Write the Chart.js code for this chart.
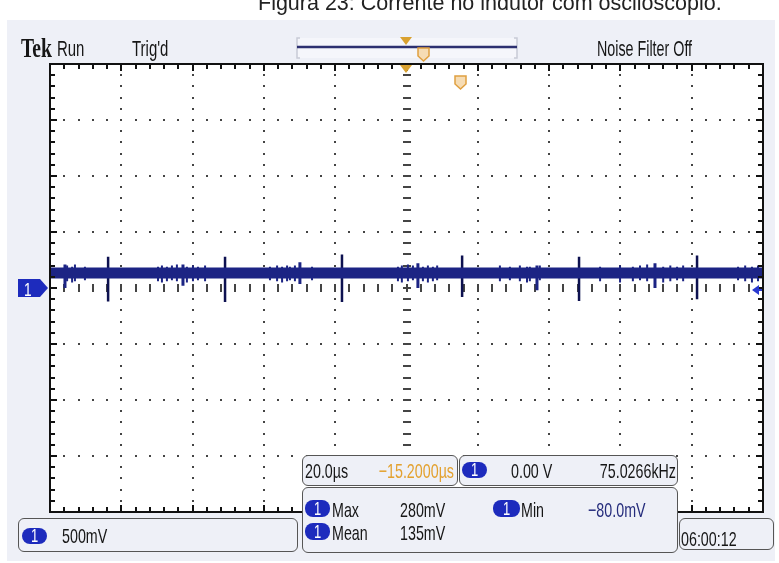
<!DOCTYPE html>
<html>
<head>
<meta charset="utf-8">
<script src="https://cdn.jsdelivr.net/npm/chart.js@4.4.1/dist/chart.umd.min.js"></script>
<style>
html, body { margin: 0; padding: 0; background: #fff; width: 779px; height: 563px; overflow: hidden; position: relative; font-family: "Liberation Sans", Arial, sans-serif; }
#panel { position: absolute; left: 7px; top: 20px; width: 768px; height: 541px; background: #eef0f7; }
#scope { position: absolute; left: 0; top: 0; }
#marks { position: absolute; left: 0; top: 0; }
.t { position: absolute; white-space: nowrap; line-height: 1; transform-origin: 0 0; color: #161616; }
.box { position: absolute; border: 1.5px solid #555; border-radius: 6px; background: #eef0f7; box-sizing: border-box; }
.badge { position: absolute; background: #1d2bbd; border-radius: 8px; }
</style>
</head>
<body>
<div id="panel"></div>
<canvas id="scope" width="779" height="563"></canvas>
<svg id="marks" width="779" height="563"></svg>
<div id="overlay"></div>
<script>
// ── Scope data ──
// x: µs from trigger (20 µs/div), y: volts (500 mV/div)
const X_MIN = -100, X_MAX = 100;
const V_MIN = -2, V_MAX = 2;

// baseline band of the inductor current trace
const bandX = [-100, 100];
const bandV = [0.134, 0.134];

// switching spikes
const spikeX = [-83.7, -50.9, -18.1, 15.6, 48.4, 81.5];
const spikeTop = [0.28, 0.28, 0.30, 0.29, 0.28, 0.29];
const spikeBottom = [-0.12, -0.125, -0.125, -0.08, -0.115, -0.10];

// smaller ringing bumps
const bumpX = [-95.8, -62.7, -29.9, 3.2, 36.6, 69.7];
const bumpTop = [0.21, 0.21, 0.23, 0.22, 0.20, 0.22];
const bumpBottom = [0.0, 0.02, 0.035, 0.0, -0.02, 0.0];

// ragged noise on the band edges
const noiseX = [-95.2, -93.8, -93.0, -90.2, -69.7, -68.6, -67.2, -65.8, -64.4, -61.6, -59.9, -58.5, -56.5,
    -38.3, -36.3, -34.9, -33.5, -32.7, -31.3, -26.5, -2.4, -1.3, 0.4, 1.8, 4.6, 6.0, 7.4, 8.6,
    26.2, 29.0, 31.8, 33.8, 34.6, 37.4, 54.3, 59.9, 63.5, 65.5, 67.5, 72.0, 74.0, 75.9, 77.6,
    93.0, 95.0, 96.9, 98.6];
const noiseTop = [0.20, 0.19, 0.21, 0.19, 0.19, 0.20, 0.19, 0.20, 0.21, 0.19, 0.20, 0.19, 0.20,
    0.19, 0.20, 0.19, 0.20, 0.19, 0.20, 0.19, 0.19, 0.20, 0.21, 0.20, 0.19, 0.20, 0.19, 0.20,
    0.20, 0.19, 0.20, 0.19, 0.19, 0.20, 0.19, 0.20, 0.19, 0.20, 0.21, 0.19, 0.20, 0.19, 0.20,
    0.19, 0.20, 0.19, 0.20];
const noiseBottom = [0.06, 0.05, 0.06, 0.07, 0.06, 0.05, 0.06, 0.07, 0.06, 0.05, 0.06, 0.07, 0.06,
    0.07, 0.06, 0.05, 0.06, 0.07, 0.06, 0.07, 0.06, 0.05, 0.06, 0.07, 0.06, 0.05, 0.06, 0.07,
    0.06, 0.07, 0.06, 0.05, 0.06, 0.07, 0.06, 0.05, 0.06, 0.07, 0.06, 0.05, 0.06, 0.07, 0.06,
    0.07, 0.06, 0.05, 0.06];

const TRACE = '#1c2484';
const DOT = '#444';

function segs(xs, tops, bottoms) {
    const pts = [];
    xs.forEach((x, i) => {
        pts.push({ x, y: tops[i] }, { x, y: bottoms[i] }, { x, y: null });
    });
    return pts;
}

// ── Graticule (dots, centre ticks, edge ticks, frame) ──
const graticule = {
    id: 'graticule',
    beforeDatasetsDraw(chart) {
        const { ctx, chartArea: a, scales: { x, y } } = chart;
        ctx.save();
        ctx.fillStyle = '#fff';
        ctx.fillRect(a.left, a.top, a.width, a.height);
        ctx.fillStyle = DOT;
        // horizontal division lines: dots at every minor x
        for (let j = 1; j < 8; j++) {
            const py = Math.round(y.getPixelForValue(V_MIN + j * 0.5));
            for (let i = 1; i < 50; i++) {
                const px = Math.round(x.getPixelForValue(X_MIN + i * 4));
                if (j === 4) ctx.fillRect(px - 1, py - 4, 2, 8);
                else ctx.fillRect(px - 1, py - 1, 2, 2);
            }
        }
        // vertical division lines: dots at every minor y
        for (let i = 1; i < 10; i++) {
            const px = Math.round(x.getPixelForValue(X_MIN + i * 20));
            for (let j = 1; j < 40; j++) {
                const py = Math.round(y.getPixelForValue(V_MIN + j * 0.1));
                if (i === 5) ctx.fillRect(px - 4, py - 1, 8, 2);
                else ctx.fillRect(px - 1, py - 1, 2, 2);
            }
        }
        ctx.restore();
    },
    afterDatasetsDraw(chart) {
        const { ctx, chartArea: a, scales: { x, y } } = chart;
        ctx.save();
        ctx.fillStyle = '#111';
        for (let i = 1; i < 50; i++) {
            const px = Math.round(x.getPixelForValue(X_MIN + i * 4));
            const len = i % 5 === 0 ? 7 : 5;
            ctx.fillRect(px - 1, a.top, 2, len);
            ctx.fillRect(px - 1, a.bottom - len, 2, len);
        }
        for (let j = 1; j < 40; j++) {
            const py = Math.round(y.getPixelForValue(V_MIN + j * 0.1));
            const len = j % 5 === 0 ? 7 : 5;
            ctx.fillRect(a.left, py - 1, len, 2);
            ctx.fillRect(a.right - len, py - 1, len, 2);
        }
        ctx.strokeStyle = '#111';
        ctx.lineWidth = 2;
        ctx.strokeRect(a.left, a.top, a.width, a.height);
        ctx.restore();
    }
};

new Chart(document.getElementById('scope'), {
    type: 'line',
    data: {
        datasets: [
            { data: bandX.map((x, i) => ({ x, y: bandV[i] })), borderColor: TRACE, borderWidth: 11, borderCapStyle: 'butt' },
            { data: segs(noiseX, noiseTop, noiseBottom), borderColor: TRACE, borderWidth: 2, spanGaps: false },
            { data: segs(bumpX, bumpTop, bumpBottom), borderColor: TRACE, borderWidth: 3, spanGaps: false },
            { data: segs(spikeX, spikeTop, spikeBottom), borderColor: '#0d1150', borderWidth: 2.5, spanGaps: false }
        ]
    },
    options: {
        responsive: false, animation: false,
        layout: { padding: { left: 50, top: 64, right: 16, bottom: 51 } },
        elements: { point: { radius: 0 }, line: { tension: 0 } },
        plugins: { legend: { display: false }, tooltip: { enabled: false } },
        scales: {
            x: { type: 'linear', min: X_MIN, max: X_MAX, display: false },
            y: { type: 'linear', min: V_MIN, max: V_MAX, display: false }
        }
    },
    plugins: [graticule]
});

// ── Screen text and readouts ──
const overlay = document.getElementById('overlay');

function box(l, t, w, h) {
    const d = document.createElement('div');
    d.className = 'box';
    Object.assign(d.style, { left: l + 'px', top: t + 'px', width: w + 'px', height: h + 'px' });
    overlay.appendChild(d);
}

function badge(l, t, w, h) {
    const d = document.createElement('div');
    d.className = 'badge';
    Object.assign(d.style, { left: l + 'px', top: t + 'px', width: w + 'px', height: h + 'px' });
    overlay.appendChild(d);
    text('1', l + w / 2 - 4, t + h - 2, 18, { color: '#fff', sx: 0.72 });
}

function text(s, x, base, size, o = {}) {
    const d = document.createElement('div');
    d.className = 't';
    d.textContent = s;
    const serif = o.serif;
    d.style.fontFamily = serif ? '"Liberation Serif", serif' : '"Liberation Sans", Arial, sans-serif';
    if (o.bold) d.style.fontWeight = 'bold';
    d.style.fontSize = size + 'px';
    d.style.left = x + 'px';
    d.style.top = (base - (serif ? 0.8375 : 0.8465) * size) + 'px';
    if (o.color) d.style.color = o.color;
    const sx = o.sx || 0.68;
    d.style.transform = o.right ? `scaleX(${sx}) translateX(-100%)` : `scaleX(${sx})`;
    overlay.appendChild(d);
}

// caption above the screenshot (cut off at top)
const cap = document.createElement('div');
cap.className = 't';
cap.textContent = 'Figura 23: Corrente no indutor com osciloscópio.';
Object.assign(cap.style, { fontSize: '21.5px', left: '258px', top: (11 - 0.8465 * 21.5) + 'px', color: '#222' });
overlay.appendChild(cap);

// header
text('Tek', 21, 57, 28, { serif: true, bold: true, sx: 0.7 });
text('Run', 57, 57, 22, { sx: 0.68 });
text("Trig'd", 132, 57, 22, { sx: 0.68 });
text('Noise Filter Off', 597, 57, 22, { sx: 0.65 });

// readout boxes
box(18, 518, 280, 34);
badge(22, 528, 25, 16);
text('500mV', 62, 543, 21);

box(302, 455, 156, 31);
text('20.0µs', 305, 478, 21);
text('−15.2000µs', 454, 478, 21, { color: '#e3a12f', right: true });

box(459, 455, 219, 31);
badge(462, 462, 25, 16);
text('0.00 V', 511, 478, 21);
text('75.0266kHz', 676, 478, 21, { right: true });

box(302, 487, 376, 66);
badge(305, 500, 25, 17);
text('Max', 332, 517, 21);
text('280mV', 400, 517, 21);
badge(493, 500, 27, 17);
text('Min', 521, 517, 21);
text('−80.0mV', 588, 517, 21, { color: '#252c7c' });
badge(305, 523, 25, 17);
text('Mean', 332, 540, 21);
text('135mV', 400, 540, 21);

box(679, 518, 95, 32);
text('06:00:12', 681, 546, 21);

// markers (trigger position, channel ground, trigger level)
const NS = 'http://www.w3.org/2000/svg';
const svg = document.getElementById('marks');
function shape(tag, attrs) {
    const el = document.createElementNS(NS, tag);
    for (const k in attrs) el.setAttribute(k, attrs[k]);
    svg.appendChild(el);
}
shape('rect', { x: 297, y: 38, width: 220, height: 20, fill: '#f5f6fb' });
shape('path', { d: 'M300 38 L297 38 L297 58 L300 58 M514 38 L517 38 L517 58 L514 58', stroke: '#c8cad6', 'stroke-width': 1.5, fill: 'none' });
shape('line', { x1: 297, y1: 47, x2: 517, y2: 47, stroke: '#2d3070', 'stroke-width': 2.5 });
shape('path', { d: 'M400 37 L412 37 L406 45 Z', fill: '#d9a130' });
shape('path', { d: 'M418 48 L429 48 L429 56 L423.5 61 L418 56 Z', fill: '#f6dcb4', stroke: '#e0a040', 'stroke-width': 1.5 });
shape('path', { d: 'M400 65 L412 65 L406 73 Z', fill: '#d9a130' });
shape('path', { d: 'M455 76 L466 76 L466 84 L460.5 89 L455 84 Z', fill: '#f6dcb4', stroke: '#e0a040', 'stroke-width': 1.5 });
// ch1 ground marker
shape('path', { d: 'M18 279 L40 279 L48 288 L40 297 L18 297 Z', fill: '#1d2bbd' });
// trigger level arrow
shape('path', { d: 'M752 290 L759 285 L759 295 Z', fill: '#2a3ad0' });
shape('line', { x1: 756, y1: 290, x2: 762, y2: 290, stroke: '#2a3ad0', 'stroke-width': 2 });
// trigger slope symbol
shape('path', { d: 'M498 477 L502 477 L507 464 L510 464', stroke: '#1b1b1b', 'stroke-width': 1.5, fill: 'none' });
text('1', 24, 296, 19, { color: '#fff', sx: 0.72 });
</script>
</body>
</html>
